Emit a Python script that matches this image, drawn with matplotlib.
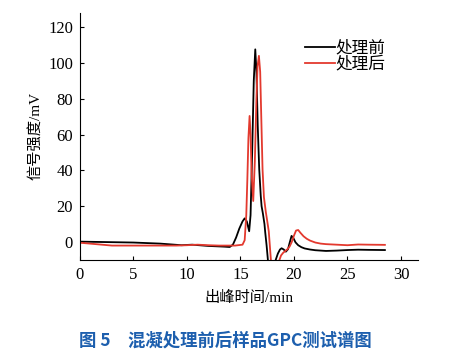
import matplotlib.pyplot as plt

plt.rcParams['font.family'] = ['Liberation Serif', 'Noto Sans CJK SC']

# 处理前 (black)
t_before = [0, 2, 5, 7.5, 9.5, 10.5, 12, 13.5, 14.0, 14.3, 14.6, 14.9, 15.2, 15.4,
            15.6, 15.82, 15.95, 16.1, 16.25, 16.39, 16.5, 16.62, 16.76, 16.9, 16.98,
            17.1, 17.25, 17.32, 17.45, 17.57, 17.62]
y_before = [0.2, 0, -0.3, -0.9, -1.8, -1.5, -2.2, -2.6, -2.8, -1.5, 2.5, 7.5, 11.5, 13.2,
            11.5, 6.0, 15, 50, 90, 107.6, 95, 65, 40.6, 26, 20,
            16, 10, 5.4, -2, -10, -14]
t_before2 = [18.2, 18.3, 18.5, 18.7, 18.85, 19.05, 19.25, 19.45, 19.6, 19.78, 19.95,
             20.15, 20.4, 20.7, 21.0, 21.5, 22.0, 23.0, 24.0, 25.0, 26.0, 27.0, 28.5]
y_before2 = [-14, -10, -6.5, -4.2, -3.5, -4.2, -5.4, -4, -0.5, 3.4, 2.2,
             -0.2, -1.8, -2.9, -3.6, -4.2, -4.6, -5.0, -4.8, -4.5, -4.3, -4.4, -4.5]

# 处理后 (red)
t_after = [0, 1.5, 3, 5, 7, 9, 10, 11, 12, 13, 14.5, 15.2, 15.4, 15.55, 15.65, 15.75,
           15.86, 15.95, 16.05, 16.2, 16.35, 16.5, 16.6, 16.73, 16.85, 16.95, 17.07,
           17.2, 17.38, 17.5, 17.65, 17.75, 17.85, 17.9]
y_after = [-0.4, -1.2, -2, -2, -2, -2, -1.8, -1.5, -1.8, -2, -2, -1.5, 1, 15, 35, 58,
           70.4, 60, 38, 22.9, 45, 80, 98, 104, 95, 70, 40.6,
           25, 16.6, 12, 6, -2, -10, -14]
t_after2 = [18.55, 18.65, 18.8, 19.0, 19.2, 19.4, 19.6, 19.8, 20.0, 20.2, 20.4, 20.6,
            20.9, 21.2, 21.5, 22.0, 22.5, 23.0, 24.0, 25.0, 26.0, 27.0, 28.5]
y_after2 = [-14, -10, -7.5, -6, -5, -4, -2.5, 0, 3.5, 6.4, 6.7, 5.2,
            3.2, 1.8, 0.8, -0.3, -0.9, -1.2, -1.5, -1.8, -1.4, -1.5, -1.6]

fig = plt.figure(figsize=(4.51, 3.57), dpi=100)
ax = fig.add_axes([0.177, 0.272, 0.75, 0.692])

ax.plot(t_before + [None] + t_before2, y_before + [None] + y_before2,
        color='black', lw=1.3, label='处理前')
ax.plot(t_after + [None] + t_after2, y_after + [None] + y_after2,
        color='#e3392e', lw=1.3, label='处理后')

ax.set_xlim(0, 31.6)
ax.set_ylim(-10, 128)
ax.set_xticks([0, 5, 10, 15, 20, 25, 30])
ax.set_yticks([0, 20, 40, 60, 80, 100, 120])
ax.spines['top'].set_visible(False)
ax.spines['right'].set_visible(False)
ax.tick_params(direction='in', length=3, labelsize=12, pad=5)

ax.set_xlabel('出峰时间/min', fontsize=11, labelpad=6)
ax.set_ylabel('信号强度/mV', fontsize=11, labelpad=4)

ax.legend(loc='upper left', bbox_to_anchor=(0.64, 0.92), frameon=False,
          fontsize=12, handlelength=1.8, handletextpad=0.05, labelspacing=0.0,
          borderpad=0)

fig.text(0.5, 0.047, '图 5\u3000混凝处理前后样品GPC测试谱图', ha='center', va='center',
         fontsize=12.5, fontweight='bold', color='#1d5fae',
         family=['Noto Sans CJK SC', 'DejaVu Sans'])

fig.savefig('out.png', dpi=100)
